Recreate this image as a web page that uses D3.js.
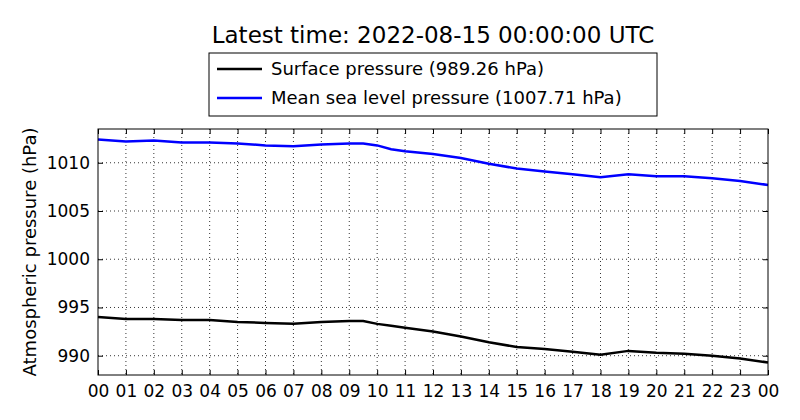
<!DOCTYPE html>
<html><head><meta charset="utf-8">
<script src="https://cdn.jsdelivr.net/npm/d3@7"></script>
<style>body{margin:0;background:#fff}text{font-family:"DejaVu Sans",sans-serif}</style>
</head><body><svg id="c" width="800" height="420"></svg>
<script>
var hours = [0,1,2,3,4,5,6,7,8,9,9.5,10,10.5,11,12,13,14,15,16,17,18,19,20,21,22,23,24];
var mslp = [1012.4,1012.2,1012.3,1012.1,1012.1,1012.0,1011.8,1011.7,1011.9,1012.0,1012.0,1011.8,1011.4,1011.2,1010.9,1010.5,1009.9,1009.4,1009.1,1008.8,1008.5,1008.8,1008.6,1008.6,1008.4,1008.1,1007.7];
var surface = [994.0,993.8,993.8,993.7,993.7,993.5,993.4,993.3,993.5,993.6,993.6,993.3,993.1,992.9,992.5,992.0,991.4,990.9,990.7,990.4,990.1,990.5,990.3,990.2,990.0,989.7,989.3];
var yTicks = [990,995,1000,1005,1010];
var xTicks = d3.range(0,25);
var seriesNames = ["Surface pressure (989.26 hPa)","Mean sea level pressure (1007.71 hPa)"];
var colors = ["#000","#0000ff"];

var svg = d3.select("#c");
var L=98,R=768,T=129,B=375;
var x = d3.scaleLinear().domain([0,24]).range([L,R]);
var y = d3.scaleLinear().domain([988,1013.5]).range([B,T]);

var g = svg.append("g");
// grid
g.selectAll(".gx").data(xTicks.slice(1,-1)).enter().append("line")
  .attr("x1",d=>x(d)).attr("x2",d=>x(d)).attr("y1",T).attr("y2",B)
  .attr("stroke","#000").attr("stroke-width",0.8).attr("stroke-dasharray","1,3");
g.selectAll(".gy").data(yTicks).enter().append("line")
  .attr("x1",L).attr("x2",R).attr("y1",d=>y(d)).attr("y2",d=>y(d))
  .attr("stroke","#000").attr("stroke-width",0.8).attr("stroke-dasharray","1,3");

var line = d3.line().x((d,i)=>x(hours[i])).y(d=>y(d));
[surface,mslp].forEach(function(s,k){
  svg.append("path").datum(s).attr("d",line).attr("fill","none")
    .attr("stroke",colors[k]).attr("stroke-width",2.5);
});

// axes with inward ticks
var xa = svg.append("g").attr("transform","translate(0,"+B+")")
  .call(d3.axisBottom(x).tickValues(xTicks).tickSize(-5).tickPadding(10).tickFormat(d=>d3.format("02d")(d%24)));
var xt = svg.append("g").attr("transform","translate(0,"+T+")")
  .call(d3.axisTop(x).tickValues(xTicks).tickSize(-5).tickFormat(""));
var ya = svg.append("g").attr("transform","translate("+L+",0)")
  .call(d3.axisLeft(y).tickValues(yTicks).tickSize(-5).tickPadding(8).tickFormat(d3.format("d")));
var yr = svg.append("g").attr("transform","translate("+R+",0)")
  .call(d3.axisRight(y).tickValues(yTicks).tickSize(-5).tickFormat(""));
[xa,xt,ya,yr].forEach(a=>{a.select(".domain").remove();a.selectAll("text").attr("font-size",17).attr("fill","#000");});
svg.append("rect").attr("x",L).attr("y",T).attr("width",R-L).attr("height",B-T)
  .attr("fill","none").attr("stroke","#000").attr("stroke-width",1);

svg.append("text").attr("transform","translate(36,"+((T+B)/2)+") rotate(-90)")
  .attr("text-anchor","middle").attr("font-size",18).text("Atmospheric pressure (hPa)");
svg.append("text").attr("x",433).attr("y",43).attr("text-anchor","middle")
  .attr("font-size",23).text("Latest time: 2022-08-15 00:00:00 UTC");

// legend
svg.append("rect").attr("x",209).attr("y",53).attr("width",448).attr("height",63)
  .attr("fill","#fff").attr("stroke","#000");
seriesNames.forEach(function(n,i){
  var yy=69+i*29;
  svg.append("line").attr("x1",217).attr("x2",262).attr("y1",yy).attr("y2",yy)
    .attr("stroke",colors[i]).attr("stroke-width",2.5);
  svg.append("text").attr("x",271).attr("y",yy+6).attr("font-size",18).text(n);
});
</script></body></html>
